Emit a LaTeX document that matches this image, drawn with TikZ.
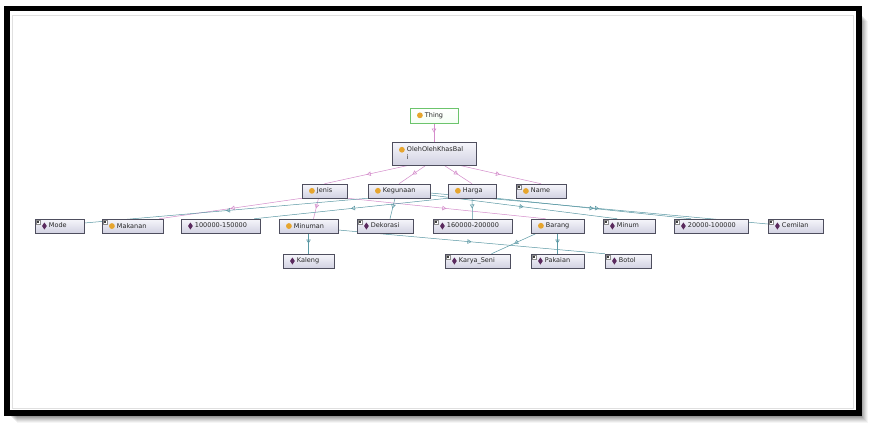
\documentclass[tikz,border=0pt]{standalone}
\usepackage{fontspec}
\setmainfont{DejaVu Sans}
\usetikzlibrary{arrows.meta,decorations.markings,shadows}
\pgfdeclarelayer{back}
\pgfdeclarelayer{bg}
\pgfsetlayers{back,bg,main}
\definecolor{clsgold}{HTML}{E6A52E}
\definecolor{indpurple}{HTML}{5A2A5E}
\definecolor{boxborder}{HTML}{4E4E5E}
\definecolor{boxtop}{HTML}{F6F6FB}
\definecolor{boxbot}{HTML}{D2D2E2}
\definecolor{pinkedge}{HTML}{D48CCB}
\definecolor{tealedge}{HTML}{5A98A4}
\definecolor{thinggreen}{HTML}{6CC46C}
\newcommand\icls{\tikz[baseline=-0.55ex]\fill[clsgold] (0,0) circle (2.9pt);}
\newcommand\iind{\tikz[baseline=-0.55ex]\fill[indpurple] (0,3.5pt) -- (2.4pt,0) -- (0,-3.5pt) -- (-2.4pt,0) -- cycle;}
\begin{document}
\begin{tikzpicture}[x=1pt,y=-1pt,
  font=\fontsize{6.5}{7.6}\selectfont,
  box/.style={draw=boxborder, line width=0.5pt, top color=boxtop, bottom color=boxbot,
    minimum height=14pt, inner xsep=7pt, inner ysep=1pt, align=left, text=black!85,
    drop shadow={shadow xshift=0.8pt, shadow yshift=-0.8pt, opacity=0.35, fill=black!60}},
  thingbox/.style={box, draw=thinggreen, top color=white, bottom color=green!4!white, line width=0.7pt},
  midmark/.style={postaction={decorate}, decoration={markings, mark=at position 0.5 with {\arrow{Triangle[open, length=4pt, width=4.5pt, line width=0.5pt]}}}},
  subedge/.style={draw=pinkedge, line width=0.5pt, midmark},
  indedge/.style={draw=tealedge, line width=0.5pt, midmark},
  tagbox/.style={draw=black!45, fill=white, line width=0.3pt}
]
\useasboundingbox (0,0) rectangle (874,428);
\begin{pgfonlayer}{back}
\fill[white] (0,0) rectangle (874,428);
\foreach \o/\op in {1/0.10,2/0.09,3/0.08,4/0.07,5/0.06,6/0.05,7/0.04} {
  \fill[black, opacity=\op] (10+\o,14+\o) rectangle (861+\o,416+\o);
}
\fill[white] (7,8.5) rectangle (859,413);
\draw[black!12, line width=0.5pt] (12,15) rectangle (853,408);
\draw[black, line width=5.5pt] (7,8.5) rectangle (859,413);
\end{pgfonlayer}

% nodes
\node[thingbox, text width=34pt, minimum height=15pt] (thing) at (434,115.5) {\icls\ Thing};
\node[box, text width=70pt, minimum height=23pt] (oleh) at (434,153.5) {\icls\ OlehOlehKhasBal\\\phantom{\icls\ }i};
\node[box, text width=31pt] (jenis) at (324.5,191) {\icls\ Jenis};
\node[box, text width=48pt] (keg) at (399,191) {\icls\ Kegunaan};
\node[box, text width=34pt] (harga) at (472,191) {\icls\ Harga};
\node[box, text width=36pt] (name) at (541,191) {\icls\ Name};
\node[box, text width=35pt] (mode) at (59.5,226) {\iind\ Mode};
\node[box, text width=47pt] (makanan) at (132.5,226) {\icls\ Makanan};
\node[box, text width=65pt] (hA) at (220.5,226) {\iind\ 100000-150000};
\node[box, text width=45pt] (minuman) at (308.5,226) {\icls\ Minuman};
\node[box, text width=42pt] (dekorasi) at (385,226) {\iind\ Dekorasi};
\node[box, text width=65pt] (hB) at (472.5,226) {\iind\ 160000-200000};
\node[box, text width=39pt] (barang) at (557.5,226) {\icls\ Barang};
\node[box, text width=38pt] (minum) at (629,226) {\iind\ Minum};
\node[box, text width=60pt] (hC) at (711,226) {\iind\ 20000-100000};
\node[box, text width=41pt] (cemilan) at (795.5,226) {\iind\ Cemilan};
\node[box, text width=37pt] (kaleng) at (308.5,261) {\iind\ Kaleng};
\node[box, text width=51pt] (karya) at (477.5,261) {\iind\ Karya\_Seni};
\node[box, text width=39pt] (pakaian) at (557.5,261) {\iind\ Pakaian};
\node[box, text width=32pt] (botol) at (628,261) {\iind\ Botol};

% small tags
\foreach \n in {name,mode,makanan,dekorasi,hB,minum,hC,cemilan,karya,pakaian,botol} {
  \draw[tagbox] ([xshift=1.2pt,yshift=-1.2pt]\n.north west) rectangle +(4,4.5);
  \fill[black!75] ([xshift=2.2pt,yshift=-2.2pt]\n.north west) rectangle +(1.6,1.6);
}

% connectors
\begin{pgfonlayer}{bg}
\draw[subedge] (thing.south) -- (oleh.north);
\draw[subedge] ([xshift=-25pt]oleh.south) -- (jenis.north);
\draw[subedge] ([xshift=-8pt]oleh.south) -- (keg.north);
\draw[subedge] ([xshift=10pt]oleh.south) -- (harga.north);
\draw[subedge] ([xshift=25pt]oleh.south) -- (name.north);
\draw[subedge] (jenis.south west) -- ([xshift=-4pt]makanan.north east);
\draw[subedge] ([xshift=-6pt]jenis.south) -- ([xshift=5pt]minuman.north);
\draw[subedge] (jenis.south east) -- ([xshift=-12pt]barang.north);
\draw[indedge] (keg.south west) -- ([yshift=3pt]mode.east);
\draw[indedge] ([xshift=-4pt]keg.south) -- ([xshift=5pt]dekorasi.north);
\draw[indedge] ([yshift=-4pt]keg.east) -- ([xshift=-12pt]minum.north);
\draw[indedge] ([yshift=-2pt]keg.east) -- ([yshift=2pt]cemilan.west);
\draw[indedge] (harga.south west) -- ([xshift=-6pt]hA.north east);
\draw[indedge] (harga.south) -- (hB.north);
\draw[indedge] (harga.south east) -- ([xshift=-20pt]hC.north);
\draw[indedge] (minuman.south) -- (kaleng.north);
\draw[indedge] ([yshift=-4pt]minuman.east) -- (botol.north west);
\draw[indedge] ([xshift=6pt]barang.south west) -- ([xshift=14pt]karya.north);
\draw[indedge] (barang.south) -- (pakaian.north);
\end{pgfonlayer}
\end{tikzpicture}
\end{document}
